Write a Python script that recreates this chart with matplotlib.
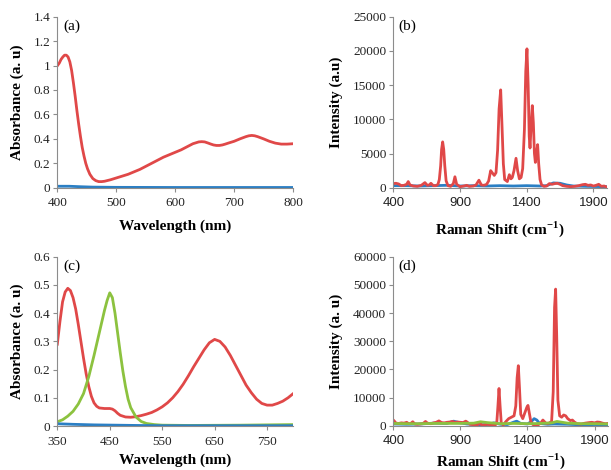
import matplotlib
matplotlib.use("Agg")
import matplotlib.pyplot as plt

plt.rcParams['font.family'] = ['Liberation Serif', 'DejaVu Serif']

RED = '#E04848'
BLUE = '#2B7FC4'
GREEN = '#8CC23F'
SPINE = '#8C8C8C'

# ---------------- Panel (a) ----------------
a_red_x = [400,403,406,409,412,415,418,421,424,427,430,433,436,439,442,445,448,451,455,460,465,470,475,480,490,500,510,520,530,540,550,560,570,580,590,600,610,620,630,640,645,650,655,660,665,670,675,680,685,690,700,710,720,725,730,735,740,750,760,770,780,790,800]
a_red_y = [1.00,1.02,1.05,1.07,1.085,1.085,1.07,1.03,0.96,0.86,0.75,0.63,0.52,0.42,0.33,0.26,0.20,0.155,0.11,0.075,0.058,0.05,0.05,0.053,0.065,0.08,0.095,0.11,0.13,0.15,0.175,0.20,0.225,0.25,0.27,0.29,0.31,0.335,0.36,0.375,0.377,0.375,0.367,0.358,0.35,0.346,0.346,0.35,0.357,0.365,0.38,0.40,0.418,0.425,0.428,0.425,0.418,0.40,0.38,0.365,0.357,0.357,0.36]
a_blue_x = [400,420,440,460,500,600,700,800]
a_blue_y = [0.012,0.012,0.008,0.005,0.003,0.002,0.002,0.002]

# ---------------- Panel (b) ----------------
b_red_x = [400,420,440,460,480,500,512,525,550,580,610,637,655,670,682,700,720,735,745,755,762,770,778,786,796,810,830,850,862,875,900,930,950,970,1000,1020,1042,1060,1080,1100,1115,1130,1145,1157,1170,1182,1193,1205,1215,1225,1235,1255,1270,1282,1292,1305,1320,1332,1345,1358,1370,1383,1393,1402,1411,1419,1425,1433,1442,1450,1458,1465,1473,1482,1490,1500,1512,1530,1550,1570,1590,1610,1630,1650,1670,1700,1730,1760,1790,1820,1840,1860,1880,1900,1920,1940,1960,1980,2000]
b_red_y = [600,650,550,300,350,500,900,400,250,200,350,750,350,400,650,300,300,500,1200,3200,5600,6700,5600,3200,1000,300,200,600,1600,500,150,250,350,200,250,400,1100,400,350,500,1000,2500,2100,1800,2200,5500,11500,14300,9000,3500,1200,900,1900,1300,1500,2500,4300,2500,1300,1500,2800,8500,17000,20300,15000,7500,5800,9000,12000,9500,5000,3700,5000,6300,3500,1200,400,200,250,600,500,600,650,500,300,200,150,200,300,450,500,350,400,250,350,500,200,250,100]
b_blue_x = [400,500,600,700,800,900,1000,1100,1200,1300,1400,1500,1550,1600,1650,1700,1750,1850,2000]
b_blue_y = [300,300,250,300,350,250,300,250,300,250,300,250,300,700,650,400,250,200,150]

# ---------------- Panel (c) ----------------
c_red_x = [350,355,360,365,370,375,380,385,390,395,400,405,410,415,420,425,430,440,450,455,460,465,470,480,490,500,510,520,530,540,550,560,570,580,590,600,610,620,630,640,650,660,670,680,690,700,710,720,730,740,750,760,770,780,790,800]
c_red_y = [0.29,0.37,0.44,0.475,0.488,0.48,0.455,0.415,0.36,0.30,0.24,0.185,0.14,0.105,0.082,0.07,0.064,0.062,0.062,0.06,0.054,0.045,0.038,0.032,0.031,0.033,0.037,0.042,0.048,0.057,0.068,0.082,0.10,0.122,0.148,0.178,0.21,0.24,0.27,0.295,0.307,0.30,0.28,0.25,0.215,0.18,0.145,0.118,0.095,0.08,0.074,0.074,0.08,0.088,0.10,0.115]
c_green_x = [350,360,370,380,390,400,410,420,430,440,445,450,455,460,465,470,475,480,485,490,500,510,520,535,550,600,700,800]
c_green_y = [0.015,0.022,0.035,0.052,0.078,0.115,0.175,0.25,0.33,0.41,0.445,0.472,0.455,0.40,0.33,0.26,0.195,0.14,0.095,0.065,0.032,0.016,0.009,0.005,0.003,0.002,0.003,0.005]
c_blue_x = [350,380,420,460,500,550,800]
c_blue_y = [0.008,0.006,0.004,0.003,0.002,0.001,0.001]

# ---------------- Panel (d) ----------------
d_red_x = [400,410,420,440,460,480,500,515,530,545,560,580,600,620,640,655,680,700,720,740,760,780,800,820,840,860,880,900,920,940,950,970,990,1010,1030,1050,1060,1080,1100,1120,1140,1160,1172,1180,1188,1196,1205,1220,1240,1260,1280,1300,1313,1323,1332,1341,1350,1365,1380,1395,1404,1412,1425,1440,1460,1480,1500,1515,1525,1540,1560,1580,1592,1602,1610,1618,1627,1640,1655,1670,1685,1700,1720,1735,1750,1770,1800,1830,1860,1880,1900,1920,1940,1960,1980,2000]
d_red_y = [2000,1500,900,800,1000,900,1200,700,800,1400,600,500,600,700,1500,900,700,1000,1200,1700,1100,1000,1200,1300,1500,1200,1300,1200,1100,1600,1300,500,400,300,400,900,100,300,500,300,200,150,1500,7000,13200,7000,800,300,1500,2500,3000,3500,7000,17000,21300,13000,4000,2500,4500,6500,7200,5000,1500,400,100,300,1000,2000,1500,800,900,1500,12000,42000,48500,32000,9000,3500,3000,3800,3500,2500,1800,2000,1300,700,600,900,1100,1200,1000,1300,1200,900,700,800]
d_blue_x = [400,500,600,700,800,850,900,950,1000,1050,1100,1150,1200,1250,1300,1320,1350,1400,1430,1450,1470,1490,1550,1600,1700,1800,1900,2000]
d_blue_y = [600,500,600,900,800,1600,1000,600,500,300,400,1000,500,400,1300,1600,800,600,1500,2500,2000,800,500,600,500,300,400,300]
d_green_x = [400,500,600,700,800,900,1000,1050,1100,1200,1300,1400,1500,1580,1620,1660,1700,1800,1900,2000]
d_green_y = [800,700,700,800,800,800,900,1400,1100,700,800,700,800,1000,1500,1200,900,700,700,600]

fig = plt.figure(figsize=(6.11, 4.70), dpi=100)

def style(ax, xlim, xticks, ylim, yticks, yticklabels, xlabel, ylabel, tag,
          sans_x=False, xpad=7):
    ax.set_xlim(*xlim)
    ax.set_ylim(*ylim)
    ax.set_xticks(xticks)
    ax.set_yticks(yticks)
    ax.set_yticklabels(yticklabels)
    for s in ['top', 'right']:
        ax.spines[s].set_visible(False)
    for s in ['left', 'bottom']:
        ax.spines[s].set_color(SPINE)
        ax.spines[s].set_linewidth(0.8)
    ax.tick_params(direction='out', length=3, width=0.8, color=SPINE,
                   labelsize=9.5, labelcolor='#222222', pad=2)
    ax.tick_params(axis='x', pad=4)
    if sans_x:
        for lab in ax.get_xticklabels():
            lab.set_family(['Liberation Sans', 'DejaVu Sans'])
            lab.set_fontsize(9.5)
    ax.set_xlabel(xlabel, fontsize=11, fontweight='bold', labelpad=xpad)
    ax.set_ylabel(ylabel, fontsize=11, fontweight='bold', labelpad=7)
    ax.text(0.025, 0.985, tag, transform=ax.transAxes, fontsize=11,
            va='top', ha='left')

LW = 2.0

ax_a = fig.add_axes([0.0941, 0.6006, 0.3854, 0.3639])
ax_a.plot(a_red_x, a_red_y, color=RED, lw=LW)
ax_a.plot(a_blue_x, a_blue_y, color=BLUE, lw=LW)
style(ax_a, (400, 800), [400, 500, 600, 700, 800], (0, 1.4),
      [0, 0.2, 0.4, 0.6, 0.8, 1.0, 1.2, 1.4],
      ['0', '0.2', '0.4', '0.6', '0.8', '1', '1.2', '1.4'],
      'Wavelength (nm)', 'Absorbance (a. u)', '(a)')

ax_b = fig.add_axes([0.6437, 0.6006, 0.3493, 0.3639])
ax_b.plot(b_blue_x, b_blue_y, color=BLUE, lw=LW)
ax_b.plot(b_red_x, b_red_y, color=RED, lw=LW)
style(ax_b, (400, 2000), [400, 900, 1400, 1900], (0, 25000),
      [0, 5000, 10000, 15000, 20000, 25000],
      ['0', '5000', '10000', '15000', '20000', '25000'],
      'Raman Shift (cm$^{\\mathregular{-1}}$)', 'Intensity (a.u)', '(b)', sans_x=True)

ax_c = fig.add_axes([0.0938, 0.0936, 0.3862, 0.3602])
ax_c.plot(c_red_x, c_red_y, color=RED, lw=LW)
ax_c.plot(c_green_x, c_green_y, color=GREEN, lw=LW)
ax_c.plot(c_blue_x, c_blue_y, color=BLUE, lw=LW)
style(ax_c, (350, 800), [350, 450, 550, 650, 750], (0, 0.6),
      [0, 0.1, 0.2, 0.3, 0.4, 0.5, 0.6],
      ['0', '0.1', '0.2', '0.3', '0.4', '0.5', '0.6'],
      'Wavelength (nm)', 'Absorbance (a. u)', '(c)', xpad=4)

ax_d = fig.add_axes([0.6437, 0.0943, 0.3513, 0.3595])
ax_d.plot(d_blue_x, d_blue_y, color=BLUE, lw=LW)
ax_d.plot(d_red_x, d_red_y, color=RED, lw=LW)
ax_d.plot(d_green_x, d_green_y, color=GREEN, lw=LW)
style(ax_d, (400, 2000), [400, 900, 1400, 1900], (0, 60000),
      [0, 10000, 20000, 30000, 40000, 50000, 60000],
      ['0', '10000', '20000', '30000', '40000', '50000', '60000'],
      'Raman Shift (cm$^{\\mathregular{-1}}$)', 'Intensity (a. u)', '(d)',
      sans_x=True, xpad=3)

fig.savefig('out.png', dpi=100)
